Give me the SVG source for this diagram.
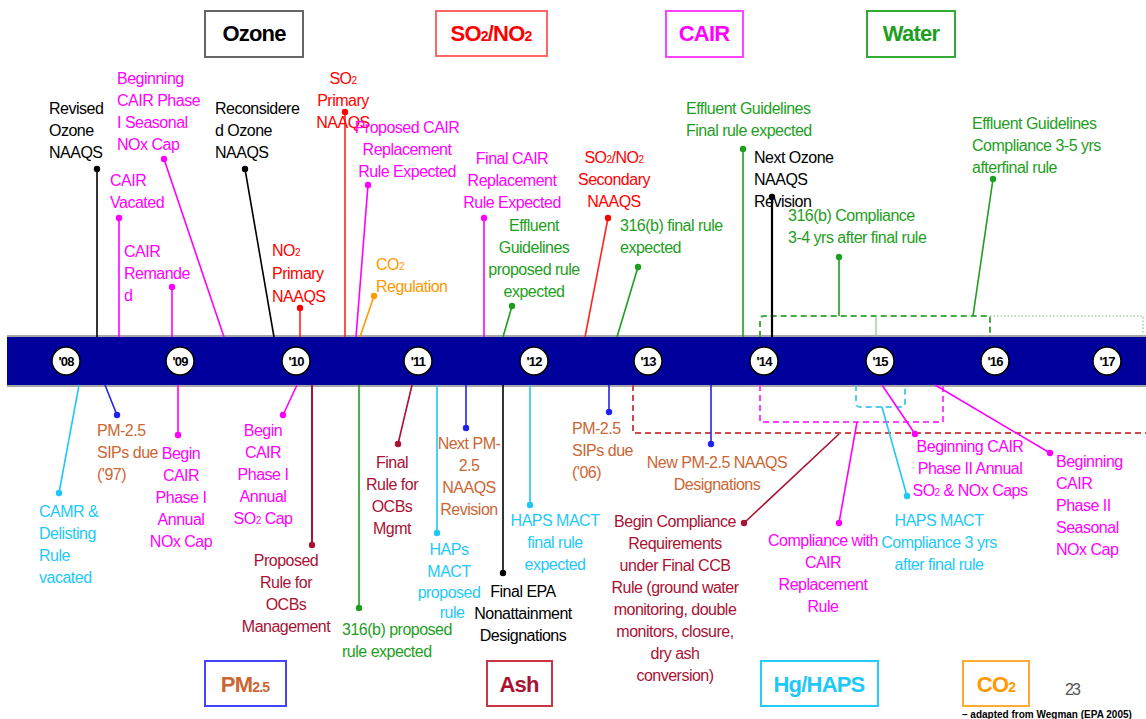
<svg xmlns="http://www.w3.org/2000/svg" width="1146" height="719" viewBox="0 0 1146 719">
<style>
.t{font-family:"Liberation Sans",Arial,sans-serif;font-size:16px;letter-spacing:-0.5px}
.h{font-family:"Liberation Sans",Arial,sans-serif;font-size:22px;font-weight:bold;letter-spacing:-0.8px;text-anchor:middle}
.yr{font-family:"Liberation Sans",Arial,sans-serif;font-size:13px;font-weight:bold;letter-spacing:-0.8px;text-anchor:middle;fill:#000}
.mid{text-anchor:middle}
.s{font-size:10px}
.k{fill:#000}.m{fill:#ff00ff}.r{fill:#ff0000}.o{fill:#ff9900}.g{fill:#1e9e1e}.c{fill:#1ec8f8}.p{fill:#cc6633}.d{fill:#aa1133}
.lk{stroke:#000}.lm{stroke:#ff00ff}.lr{stroke:#ff2222}.lo{stroke:#ff9900}.lg{stroke:#1e9e1e}.lc{stroke:#1ec8f8}.lb{stroke:#2222ee}.ld{stroke:#aa1133}
#connectors line{stroke-width:1.6;fill:none}
.box{fill:#fff;stroke-width:2}
.dash{fill:none;stroke-width:2;stroke-dasharray:6 4}
</style>

<!-- Timeline bar -->
<g id="timeline">
<rect x="7" y="337" width="1139" height="48" fill="#00009c"/>
<line x1="7" y1="336" x2="1146" y2="336" stroke="#888" stroke-width="1.5"/>
<line x1="7" y1="386" x2="1146" y2="386" stroke="#888" stroke-width="1.5"/>
<g fill="#fff" stroke="#000" stroke-width="1.5">
<circle cx="66" cy="361" r="14"/><circle cx="180" cy="361" r="14"/><circle cx="296" cy="361" r="14"/><circle cx="418" cy="361" r="14"/><circle cx="534" cy="361" r="14"/><circle cx="648" cy="361" r="14"/><circle cx="764" cy="361" r="14"/><circle cx="880" cy="361" r="14"/><circle cx="995" cy="361" r="14"/><circle cx="1107" cy="361" r="14"/>
</g>
<text class="yr" x="66" y="366">'08</text><text class="yr" x="180" y="366">'09</text><text class="yr" x="296" y="366">'10</text><text class="yr" x="418" y="366">'11</text><text class="yr" x="534" y="366">'12</text><text class="yr" x="648" y="366">'13</text><text class="yr" x="764" y="366">'14</text><text class="yr" x="880" y="366">'15</text><text class="yr" x="995" y="366">'16</text><text class="yr" x="1107" y="366">'17</text>
</g>

<!-- Dashed brackets -->
<g id="brackets">
<path class="dash" d="M760,337 V320 Q760,316 764,316 H990 V337" stroke="#44aa44"/>
<line x1="876" y1="316" x2="876" y2="337" stroke="#88cc88" stroke-width="1.2"/>
<path d="M990,316 H1143 V337" fill="none" stroke="#aaccaa" stroke-width="1.5" stroke-dasharray="1.5 2"/>
<path class="dash" d="M633,385 V433 H1146" stroke="#d04848"/>
<path class="dash" d="M760,385 V422 H943 V385" stroke="#ff44ff"/>
<path class="dash" d="M856,385 V403 Q856,407 860,407 H901 Q905,407 905,403 V385" stroke="#55ccee"/>
</g>

<!-- Connectors -->
<g id="connectors">
<line class="lk" x1="97" y1="169" x2="97" y2="337"/>
<line class="lm" x1="164" y1="159" x2="224" y2="337"/>
<line class="lm" x1="119" y1="218" x2="119" y2="337"/>
<line class="lm" x1="172" y1="287" x2="172" y2="337"/>
<line class="lk" x1="245" y1="169" x2="274" y2="337"/>
<line class="lr" x1="300" y1="308" x2="300" y2="337"/>
<line class="lr" x1="345" y1="112" x2="345" y2="337"/>
<line class="lm" x1="368" y1="185" x2="356" y2="337"/>
<line class="lo" x1="374" y1="296" x2="360" y2="337"/>
<line class="lm" x1="484" y1="218" x2="484" y2="337"/>
<line class="lg" x1="512" y1="306" x2="503" y2="337"/>
<line class="lr" x1="608" y1="218" x2="585" y2="337"/>
<line class="lg" x1="638" y1="267" x2="617" y2="337"/>
<line class="lg" x1="743" y1="149" x2="743" y2="337"/>
<line class="lk" x1="772" y1="197" x2="772" y2="337" style="stroke-width:2.2"/>
<line class="lg" x1="839" y1="257" x2="839" y2="316"/>
<line class="lg" x1="993" y1="179" x2="973" y2="316"/>
<line class="lc" x1="59" y1="493" x2="79" y2="385"/>
<line class="lb" x1="117" y1="415" x2="105" y2="385"/>
<line class="lm" x1="178" y1="435" x2="178" y2="385"/>
<line class="lm" x1="283" y1="415" x2="297" y2="385"/>
<line class="ld" x1="312" y1="545" x2="312" y2="385" style="stroke-width:2"/>
<line class="lg" x1="359" y1="608" x2="359" y2="385"/>
<line class="ld" x1="398" y1="444" x2="412" y2="385"/>
<line class="lc" x1="437" y1="533" x2="437" y2="385"/>
<line class="lb" x1="466" y1="428" x2="466" y2="385"/>
<line class="lk" x1="503" y1="573" x2="503" y2="385"/>
<line class="lc" x1="530" y1="505" x2="530" y2="385"/>
<line class="lb" x1="609" y1="412" x2="609" y2="385"/>
<line class="lb" x1="711" y1="444" x2="711" y2="385"/>
<line class="ld" x1="744" y1="523" x2="839" y2="434"/>
<line class="lm" x1="839" y1="523" x2="857" y2="422"/>
<line class="lm" x1="915" y1="434" x2="882" y2="385"/>
<line class="lc" x1="907" y1="496" x2="882" y2="407"/>
<line class="lm" x1="1050" y1="453" x2="935" y2="385"/>
<g>
<circle cx="97" cy="169" r="3.2" fill="#000"/>
<circle cx="164" cy="159" r="3.2" fill="#ff00ff"/>
<circle cx="119" cy="218" r="3.2" fill="#ff00ff"/>
<circle cx="172" cy="287" r="3.2" fill="#ff00ff"/>
<circle cx="245" cy="169" r="3.2" fill="#000"/>
<circle cx="300" cy="308" r="3.2" fill="#ff0000"/>
<circle cx="345" cy="112" r="3.2" fill="#ff0000"/>
<circle cx="368" cy="185" r="3.2" fill="#ff00ff"/>
<circle cx="374" cy="296" r="3.2" fill="#ff9900"/>
<circle cx="484" cy="218" r="3.2" fill="#ff00ff"/>
<circle cx="512" cy="306" r="3.2" fill="#1e9e1e"/>
<circle cx="608" cy="218" r="3.2" fill="#ff0000"/>
<circle cx="638" cy="267" r="3.2" fill="#1e9e1e"/>
<circle cx="743" cy="149" r="3.2" fill="#1e9e1e"/>
<circle cx="772" cy="197" r="3.2" fill="#000"/>
<circle cx="839" cy="257" r="3.2" fill="#1e9e1e"/>
<circle cx="993" cy="179" r="3.2" fill="#1e9e1e"/>
<circle cx="59" cy="493" r="3.2" fill="#1ec8f8"/>
<circle cx="117" cy="415" r="3.2" fill="#2222ee"/>
<circle cx="178" cy="435" r="3.2" fill="#ff00ff"/>
<circle cx="283" cy="415" r="3.2" fill="#ff00ff"/>
<circle cx="312" cy="545" r="3.2" fill="#aa1133"/>
<circle cx="359" cy="608" r="3.2" fill="#1e9e1e"/>
<circle cx="398" cy="444" r="3.2" fill="#aa1133"/>
<circle cx="437" cy="533" r="3.2" fill="#1ec8f8"/>
<circle cx="466" cy="428" r="3.2" fill="#2222ee"/>
<circle cx="503" cy="573" r="3.2" fill="#000"/>
<circle cx="530" cy="505" r="3.2" fill="#1ec8f8"/>
<circle cx="609" cy="412" r="3.2" fill="#2222ee"/>
<circle cx="711" cy="444" r="3.2" fill="#2222ee"/>
<circle cx="744" cy="523" r="3.2" fill="#aa1133"/>
<circle cx="839" cy="523" r="3.2" fill="#ff00ff"/>
<circle cx="915" cy="434" r="3.2" fill="#ff00ff"/>
<circle cx="907" cy="496" r="3.2" fill="#1ec8f8"/>
<circle cx="1050" cy="453" r="3.2" fill="#ff00ff"/>
</g>
</g>

<!-- Category boxes -->
<g id="cat-ozone"><rect class="box" x="205" y="11" width="98" height="46" stroke="#666"/><text class="h k" x="254" y="41">Ozone</text></g>
<g id="cat-so2no2"><rect class="box" x="436" y="11" width="111" height="45" stroke="#ff6666"/><text class="h r" x="491" y="41">SO<tspan font-size="14">2</tspan>/NO<tspan font-size="14">2</tspan></text></g>
<g id="cat-cair"><rect class="box" x="666" y="11" width="77" height="46" stroke="#ff44ff"/><text class="h m" x="704" y="41">CAIR</text></g>
<g id="cat-water"><rect class="box" x="867" y="11" width="88" height="46" stroke="#33aa33"/><text class="h g" x="911" y="41">Water</text></g>
<g id="cat-pm25"><rect class="box" x="205" y="661" width="81" height="45" stroke="#4444ff"/><text class="h p" x="245" y="692">PM<tspan font-size="14">2.5</tspan></text></g>
<g id="cat-ash"><rect class="box" x="487" y="661" width="65" height="45" stroke="#cc3344"/><text class="h d" x="519" y="692">Ash</text></g>
<g id="cat-hghaps"><rect class="box" x="761" y="661" width="117" height="45" stroke="#22ccff"/><text class="h c" x="819" y="692">Hg/HAPS</text></g>
<g id="cat-co2"><rect class="box" x="963" y="661" width="66" height="45" stroke="#ffaa33"/><text class="h o" x="996" y="692">CO<tspan font-size="14">2</tspan></text></g>

<!-- Labels above -->
<g id="n-revised-ozone"><text class="t k" x="49" y="114"><tspan x="49">Revised</tspan><tspan x="49" dy="22">Ozone</tspan><tspan x="49" dy="22">NAAQS</tspan></text></g>
<g id="n-cair-ph1-seasonal"><text class="t m" x="117" y="84"><tspan x="117">Beginning</tspan><tspan x="117" dy="22">CAIR Phase</tspan><tspan x="117" dy="22">I Seasonal</tspan><tspan x="117" dy="22">NOx Cap</tspan></text></g>
<g id="n-cair-vacated"><text class="t m" x="110" y="186"><tspan x="110">CAIR</tspan><tspan x="110" dy="22">Vacated</tspan></text></g>
<g id="n-cair-remanded"><text class="t m" x="124" y="257"><tspan x="124">CAIR</tspan><tspan x="124" dy="22">Remande</tspan><tspan x="124" dy="22">d</tspan></text></g>
<g id="n-reconsidered-ozone"><text class="t k" x="215" y="114"><tspan x="215">Reconsidere</tspan><tspan x="215" dy="22">d Ozone</tspan><tspan x="215" dy="22">NAAQS</tspan></text></g>
<g id="n-no2-primary"><text class="t r" x="272" y="256"><tspan x="272">NO<tspan class="s">2</tspan></tspan><tspan x="272" dy="23">Primary</tspan><tspan x="272" dy="23">NAAQS</tspan></text></g>
<g id="n-so2-primary"><text class="t r mid" x="343" y="84"><tspan x="343">SO<tspan class="s">2</tspan></tspan><tspan x="343" dy="22">Primary</tspan><tspan x="343" dy="22">NAAQS</tspan></text></g>
<g id="n-proposed-cair"><text class="t m mid" x="407" y="133"><tspan x="407">Proposed CAIR</tspan><tspan x="407" dy="22">Replacement</tspan><tspan x="407" dy="22">Rule Expected</tspan></text></g>
<g id="n-co2-regulation"><text class="t o" x="376" y="270"><tspan x="376">CO<tspan class="s">2</tspan></tspan><tspan x="376" dy="22">Regulation</tspan></text></g>
<g id="n-final-cair"><text class="t m mid" x="512" y="164"><tspan x="512">Final CAIR</tspan><tspan x="512" dy="22">Replacement</tspan><tspan x="512" dy="22">Rule Expected</tspan></text></g>
<g id="n-effluent-proposed"><text class="t g mid" x="534" y="231"><tspan x="534">Effluent</tspan><tspan x="534" dy="22">Guidelines</tspan><tspan x="534" dy="22">proposed rule</tspan><tspan x="534" dy="22">expected</tspan></text></g>
<g id="n-so2no2-secondary"><text class="t r mid" x="614" y="163"><tspan x="614">SO<tspan class="s">2</tspan>/NO<tspan class="s">2</tspan></tspan><tspan x="614" dy="22">Secondary</tspan><tspan x="614" dy="22">NAAQS</tspan></text></g>
<g id="n-316b-final"><text class="t g" x="620" y="231"><tspan x="620">316(b) final rule</tspan><tspan x="620" dy="22">expected</tspan></text></g>
<g id="n-effluent-final"><text class="t g" x="686" y="114"><tspan x="686">Effluent Guidelines</tspan><tspan x="686" dy="22">Final rule expected</tspan></text></g>
<g id="n-next-ozone"><text class="t k" x="754" y="163"><tspan x="754">Next Ozone</tspan><tspan x="754" dy="22">NAAQS</tspan><tspan x="754" dy="22">Revision</tspan></text></g>
<g id="n-316b-compliance"><text class="t g" x="788" y="221"><tspan x="788">316(b) Compliance</tspan><tspan x="788" dy="22">3-4 yrs after final rule</tspan></text></g>
<g id="n-effluent-compliance"><text class="t g" x="972" y="129"><tspan x="972">Effluent Guidelines</tspan><tspan x="972" dy="22">Compliance 3-5 yrs</tspan><tspan x="972" dy="22">afterfinal rule</tspan></text></g>

<!-- Labels below -->
<g id="n-camr"><text class="t c" x="39" y="517"><tspan x="39">CAMR &amp;</tspan><tspan x="39" dy="22">Delisting</tspan><tspan x="39" dy="22">Rule</tspan><tspan x="39" dy="22">vacated</tspan></text></g>
<g id="n-pm-sips-97"><text class="t p" x="97" y="436"><tspan x="97">PM-2.5</tspan><tspan x="97" dy="22">SIPs due</tspan><tspan x="97" dy="22">('97)</tspan></text></g>
<g id="n-begin-cair-nox"><text class="t m mid" x="181" y="459"><tspan x="181">Begin</tspan><tspan x="181" dy="22">CAIR</tspan><tspan x="181" dy="22">Phase I</tspan><tspan x="181" dy="22">Annual</tspan><tspan x="181" dy="22">NOx Cap</tspan></text></g>
<g id="n-begin-cair-so2"><text class="t m mid" x="263" y="436"><tspan x="263">Begin</tspan><tspan x="263" dy="22">CAIR</tspan><tspan x="263" dy="22">Phase I</tspan><tspan x="263" dy="22">Annual</tspan><tspan x="263" dy="22">SO<tspan class="s">2</tspan> Cap</tspan></text></g>
<g id="n-proposed-ocb"><text class="t d mid" x="286" y="566"><tspan x="286">Proposed</tspan><tspan x="286" dy="22">Rule for</tspan><tspan x="286" dy="22">OCBs</tspan><tspan x="286" dy="22">Management</tspan></text></g>
<g id="n-316b-proposed"><text class="t g" x="342" y="635"><tspan x="342">316(b) proposed</tspan><tspan x="342" dy="22">rule expected</tspan></text></g>
<g id="n-final-ocb"><text class="t d mid" x="392" y="468"><tspan x="392">Final</tspan><tspan x="392" dy="22">Rule for</tspan><tspan x="392" dy="22">OCBs</tspan><tspan x="392" dy="22">Mgmt</tspan></text></g>
<g id="n-haps-proposed"><text class="t c mid" x="449" y="555"><tspan x="449">HAPs</tspan><tspan x="449" dy="21.5">MACT</tspan><tspan x="449" dy="21.5">proposed</tspan><tspan x="452" dy="20">rule</tspan></text></g>
<g id="n-next-pm"><text class="t p mid" x="469" y="449"><tspan x="469">Next PM-</tspan><tspan x="469" dy="22">2.5</tspan><tspan x="469" dy="22">NAAQS</tspan><tspan x="469" dy="22">Revision</tspan></text></g>
<g id="n-final-epa"><text class="t k mid" x="523" y="597"><tspan x="523">Final EPA</tspan><tspan x="523" dy="22">Nonattainment</tspan><tspan x="523" dy="22">Designations</tspan></text></g>
<g id="n-haps-final"><text class="t c mid" x="555" y="526"><tspan x="555">HAPS MACT</tspan><tspan x="555" dy="22">final rule</tspan><tspan x="555" dy="22">expected</tspan></text></g>
<g id="n-pm-sips-06"><text class="t p" x="572" y="434"><tspan x="572">PM-2.5</tspan><tspan x="572" dy="22">SIPs due</tspan><tspan x="572" dy="22">('06)</tspan></text></g>
<g id="n-new-pm"><text class="t p mid" x="717" y="468"><tspan x="717">New PM-2.5 NAAQS</tspan><tspan x="717" dy="22">Designations</tspan></text></g>
<g id="n-begin-compliance"><text class="t d mid" x="675" y="527"><tspan x="675">Begin Compliance</tspan><tspan x="675" dy="22">Requirements</tspan><tspan x="675" dy="22">under Final CCB</tspan><tspan x="675" dy="22">Rule (ground water</tspan><tspan x="675" dy="22">monitoring, double</tspan><tspan x="675" dy="22">monitors, closure,</tspan><tspan x="675" dy="22">dry ash</tspan><tspan x="675" dy="22">conversion)</tspan></text></g>
<g id="n-compliance-cair"><text class="t m mid" x="823" y="546"><tspan x="823">Compliance with</tspan><tspan x="823" dy="22">CAIR</tspan><tspan x="823" dy="22">Replacement</tspan><tspan x="823" dy="22">Rule</tspan></text></g>
<g id="n-cair-ph2-annual"><text class="t m mid" x="970" y="452"><tspan x="970">Beginning CAIR</tspan><tspan x="970" dy="22">Phase II Annual</tspan><tspan x="970" dy="22">SO<tspan class="s">2</tspan> &amp; NOx Caps</tspan></text></g>
<g id="n-haps-compliance"><text class="t c mid" x="939" y="526"><tspan x="939">HAPS MACT</tspan><tspan x="939" dy="22">Compliance 3 yrs</tspan><tspan x="939" dy="22">after final rule</tspan></text></g>
<g id="n-cair-ph2-seasonal"><text class="t m" x="1056" y="467"><tspan x="1056">Beginning</tspan><tspan x="1056" dy="22">CAIR</tspan><tspan x="1056" dy="22">Phase II</tspan><tspan x="1056" dy="22">Seasonal</tspan><tspan x="1056" dy="22">NOx Cap</tspan></text></g>

<!-- Footer -->
<g id="footer">
<text x="1065" y="695" font-family="Liberation Sans, Arial, sans-serif" font-size="16" letter-spacing="-2" fill="#555">23</text>
<text x="962" y="718" font-family="Liberation Sans, Arial, sans-serif" font-size="10" font-weight="bold" fill="#000">– adapted from Wegman (EPA 2005)</text>
</g>
</svg>
